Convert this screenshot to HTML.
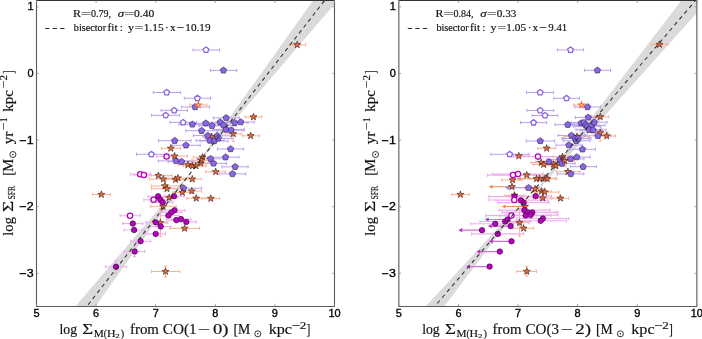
<!DOCTYPE html><html><head><meta charset="utf-8"><style>html,body{margin:0;padding:0;background:#fff;width:702px;height:339px;overflow:hidden}svg{display:block;will-change:transform}.st{font-family:"Liberation Serif",serif;fill:#111;stroke:#111;stroke-width:0.16px}.tk{font-family:"Liberation Sans",sans-serif;font-size:10px;fill:#000;stroke:#000;stroke-width:0.32px}.lg{font-family:"Liberation Serif",serif;font-size:11.6px;fill:#111}.al{font-family:"Liberation Serif",serif;font-size:14.6px;fill:#111}.sub{font-size:10.2px}.sub2{font-size:7.5px}.sup{font-size:10.2px}</style></head><body>
<svg width="702" height="339" viewBox="0 0 702 339">
<defs><clipPath id="cl"><rect x="36.5" y="0" width="298" height="306.5"/></clipPath><clipPath id="cr"><rect x="398.85" y="0" width="298" height="306.5"/></clipPath></defs>
<g clip-path="url(#cl)">
<path d="M193.1 169 L313.3 0 L337.92 0 ZM193.1 169 L94.95 307 L74.85 307 Z" fill="#dadada"/>
<path d="M205.7 171.8H225.4M205.7 170.2V173.4M225.4 170.2V173.4M225.3 133.8H241.2M225.3 132.2V135.4M241.2 132.2V135.4M233.3 126V141.5M231.7 126H234.9M231.7 141.5H234.9M203 136.7H220M203 135.1V138.3M220 135.1V138.3" stroke="#f9b095" stroke-width="1.0" fill="none"/>
<path d="M193.1 50H219.6M193.1 48.4V51.6M219.6 48.4V51.6M153.3 92.5H180.4M153.3 90.9V94.1M180.4 90.9V94.1M184.3 98.2H210.5M184.3 96.6V99.8M210.5 96.6V99.8M161.1 110.4H187.4M161.1 108.8V112M187.4 108.8V112M151.6 115.3H179.5M151.6 113.7V116.9M179.5 113.7V116.9M169.9 122.4H196.5M169.9 120.8V124M196.5 120.8V124M136.5 154.3H166.5M136.5 152.7V155.9M166.5 152.7V155.9M210.4 70.4H236.8M210.4 68.8V72M236.8 68.8V72M181.6 107H209.6M181.6 105.4V108.6M209.6 105.4V108.6M213.3 117.9H239.3M213.3 116.3V119.5M239.3 116.3V119.5M192 123.3H219M192 121.7V124.9M219 121.7V124.9M199 125.8H225M199 124.2V127.4M225 124.2V127.4M207 122.2H233M207 120.6V123.8M233 120.6V123.8M210 125.2H236M210 123.6V126.8M236 123.6V126.8M221 122.7H248M221 121.1V124.3M248 121.1V124.3M227.5 122.1H254.2M227.5 120.5V123.7M254.2 120.5V123.7M179 124.4H205M179 122.8V126M205 122.8V126M185.8 130.7H217M185.8 129.1V132.3M217 129.1V132.3M213 129.5H244M213 127.9V131.1M244 127.9V131.1M218 130.2H244M218 128.6V131.8M244 128.6V131.8M193.3 135.6H222M193.3 134V137.2M222 134V137.2M204 135.8H230M204 134.2V137.4M230 134.2V137.4M196 140.5H224M196 138.9V142.1M224 138.9V142.1M200 141H228M200 139.4V142.6M228 139.4V142.6M205 138.4H232M205 136.8V140M232 136.8V140M217.4 149H243.7M217.4 147.4V150.6M243.7 147.4V150.6M158.4 140.7H191M158.4 139.1V142.3M191 139.1V142.3M172 145.3H200.2M172 143.7V146.9M200.2 143.7V146.9M158.3 160.9H192M158.3 159.3V162.5M192 159.3V162.5M168 161.7H195M168 160.1V163.3M195 160.1V163.3M197 158.8H224.2M197 157.2V160.4M224.2 157.2V160.4M200.4 163.4H226.6M200.4 161.8V165M226.6 161.8V165M212 157.2H238.9M212 155.6V158.8M238.9 155.6V158.8M221.9 166.8H248.1M221.9 165.2V168.4M248.1 165.2V168.4M219 173.9H245.7M219 172.3V175.5M245.7 172.3V175.5M168 188.2H201.8M168 186.6V189.8M201.8 186.6V189.8" stroke="#b7a2ee" stroke-width="1.0" fill="none"/>
<path d="M289.3 44.8H305.7M289.3 43.2V46.4M305.7 43.2V46.4M245.3 117H261.8M245.3 115.4V118.6M261.8 115.4V118.6M242.8 135.8H259.6M242.8 134.2V137.4M259.6 134.2V137.4M92.5 194.5H110.6M92.5 192.9V196.1M110.6 192.9V196.1M161.5 148.3H180.7M161.5 146.7V149.9M180.7 146.7V149.9M165 156.1H187.5M165 154.5V157.7M187.5 154.5V157.7M178 164.8H198M178 163.2V166.4M198 163.2V166.4M183 165.9H202M183 164.3V167.5M202 164.3V167.5M186 165.9H206M186 164.3V167.5M206 164.3V167.5M191 163H210M191 161.4V164.6M210 161.4V164.6M193.3 157.2H211M193.3 155.6V158.8M211 155.6V158.8M192 160.2H210M192 158.6V161.8M210 158.6V161.8M149 175.6H172M149 174V177.2M172 174V177.2M149.7 179.1H177M149.7 177.5V180.7M177 177.5V180.7M166 179.5H185M166 177.9V181.1M185 177.9V181.1M168 178.1H188M168 176.5V179.7M188 176.5V179.7M183.8 179.1H201.3M183.8 177.5V180.7M201.3 177.5V180.7M151.2 185.9H182M151.2 184.3V187.5M182 184.3V187.5M151.6 188.8H185M151.6 187.2V190.4M185 187.2V190.4M173 192.4H192M173 190.8V194M192 190.8V194M182 191.1H201.3M182 189.5V192.7M201.3 189.5V192.7M160 197.6H178M160 196V199.2M178 196V199.2M187 198.3H205M187 196.7V199.9M205 196.7V199.9M202 198.5H219.4M202 196.9V200.1M219.4 196.9V200.1M150.7 206.4H176.2M150.7 204.8V208M176.2 204.8V208M152 222.8H167.8M152 221.2V224.4M167.8 221.2V224.4M160.4 208.5V236.6M158.8 208.5H162M158.8 236.6H162M169.7 228.4H199.4M169.7 226.8V230M199.4 226.8V230M151.5 271.5H179.8M151.5 269.9V273.1M179.8 269.9V273.1M165.5 266.1V276.8M163.9 266.1H167.1M163.9 276.8H167.1M189.8 104.9H206.9M189.8 103.3V106.5M206.9 103.3V106.5" stroke="#f9b095" stroke-width="1.0" fill="none"/>
<path d="M156.7 156.5H176M156.7 154.9V158.1M176 154.9V158.1M130.6 174.2H150M130.6 172.6V175.8M150 172.6V175.8M134 175H151.3M134 173.4V176.6M151.3 173.4V176.6M143.9 199.8H163M143.9 198.2V201.4M163 198.2V201.4M120.1 215.7H140.3M120.1 214.1V217.3M140.3 214.1V217.3M148 196.3H168M148 194.7V197.9M168 194.7V197.9M150 199.8H170M150 198.2V201.4M170 198.2V201.4M152 202.3H173M152 200.7V203.9M173 200.7V203.9M164 196.2H184M164 194.6V197.8M184 194.6V197.8M164 210.3H185M164 208.7V211.9M185 208.7V211.9M161 212.4H182M161 210.8V214M182 210.8V214M158 215.6H179M158 214V217.2M179 214V217.2M166 220.1H187M166 218.5V221.7M187 218.5V221.7M171 219.1H191M171 217.5V220.7M191 217.5V220.7M176 221.9H196.3M176 220.3V223.5M196.3 220.3V223.5M146 222.4H166M146 220.8V224M166 220.8V224M150 226.5H171M150 224.9V228.1M171 224.9V228.1M145.8 233.9H165.5M145.8 232.3V235.5M165.5 232.3V235.5M122.7 223.6H142.9M122.7 222V225.2M142.9 222V225.2M124.2 230H144.4M124.2 228.4V231.6M144.4 228.4V231.6M130.6 241.2H150.7M130.6 239.6V242.8M150.7 239.6V242.8M124.2 251.5H144.7M124.2 249.9V253.1M144.7 249.9V253.1M134.7 246.8V256.6M133.1 246.8H136.3M133.1 256.6H136.3M105.4 266.8H126.6M105.4 265.2V268.4M126.6 265.2V268.4M116 260.6V273.1M114.4 260.6H117.6M114.4 273.1H117.6" stroke="#f0aef0" stroke-width="1.1" fill="none"/>
<path d="M215.7 168.1 L216.57 170.6 L219.22 170.66 L217.11 172.26 L217.87 174.79 L215.7 173.28 L213.53 174.79 L214.29 172.26 L212.18 170.66 L214.83 170.6Z" fill="#ec6a3c" stroke="#3a1c10" stroke-width="0.6"/>
<path d="M233.3 130.1 L234.17 132.6 L236.82 132.66 L234.71 134.26 L235.47 136.79 L233.3 135.28 L231.13 136.79 L231.89 134.26 L229.78 132.66 L232.43 132.6Z" fill="#ec6a3c" stroke="#3a1c10" stroke-width="0.6"/>
<path d="M211.6 133 L212.47 135.5 L215.12 135.56 L213.01 137.16 L213.77 139.69 L211.6 138.18 L209.43 139.69 L210.19 137.16 L208.08 135.56 L210.73 135.5Z" fill="#ec6a3c" stroke="#3a1c10" stroke-width="0.6"/>
<path d="M206 47.05 L208.81 49.09 L207.73 52.39 L204.27 52.39 L203.19 49.09Z" fill="#fff" stroke="#8a64e0" stroke-width="1.3"/>
<path d="M166.7 89.55 L169.51 91.59 L168.43 94.89 L164.97 94.89 L163.89 91.59Z" fill="#fff" stroke="#8a64e0" stroke-width="1.3"/>
<path d="M197.4 95.25 L200.21 97.29 L199.13 100.59 L195.67 100.59 L194.59 97.29Z" fill="#fff" stroke="#8a64e0" stroke-width="1.3"/>
<path d="M174.2 107.45 L177.01 109.49 L175.93 112.79 L172.47 112.79 L171.39 109.49Z" fill="#fff" stroke="#8a64e0" stroke-width="1.3"/>
<path d="M165.7 112.35 L168.51 114.39 L167.43 117.69 L163.97 117.69 L162.89 114.39Z" fill="#fff" stroke="#8a64e0" stroke-width="1.3"/>
<path d="M183.1 119.45 L185.91 121.49 L184.83 124.79 L181.37 124.79 L180.29 121.49Z" fill="#fff" stroke="#8a64e0" stroke-width="1.3"/>
<path d="M151.4 151.35 L154.21 153.39 L153.13 156.69 L149.67 156.69 L148.59 153.39Z" fill="#fff" stroke="#8a64e0" stroke-width="1.3"/>
<path d="M223.5 67.05 L226.69 69.36 L225.47 73.11 L221.53 73.11 L220.31 69.36Z" fill="#8966e4" stroke="#2e2450" stroke-width="0.6"/>
<path d="M195.1 103.65 L198.29 105.96 L197.07 109.71 L193.13 109.71 L191.91 105.96Z" fill="#8966e4" stroke="#2e2450" stroke-width="0.6"/>
<path d="M226.1 114.55 L229.29 116.86 L228.07 120.61 L224.13 120.61 L222.91 116.86Z" fill="#8966e4" stroke="#2e2450" stroke-width="0.6"/>
<path d="M205.7 119.95 L208.89 122.26 L207.67 126.01 L203.73 126.01 L202.51 122.26Z" fill="#8966e4" stroke="#2e2450" stroke-width="0.6"/>
<path d="M212 122.45 L215.19 124.76 L213.97 128.51 L210.03 128.51 L208.81 124.76Z" fill="#8966e4" stroke="#2e2450" stroke-width="0.6"/>
<path d="M220.1 118.85 L223.29 121.16 L222.07 124.91 L218.13 124.91 L216.91 121.16Z" fill="#8966e4" stroke="#2e2450" stroke-width="0.6"/>
<path d="M223.5 121.85 L226.69 124.16 L225.47 127.91 L221.53 127.91 L220.31 124.16Z" fill="#8966e4" stroke="#2e2450" stroke-width="0.6"/>
<path d="M234.6 119.35 L237.79 121.66 L236.57 125.41 L232.63 125.41 L231.41 121.66Z" fill="#8966e4" stroke="#2e2450" stroke-width="0.6"/>
<path d="M240.7 118.75 L243.89 121.06 L242.67 124.81 L238.73 124.81 L237.51 121.06Z" fill="#8966e4" stroke="#2e2450" stroke-width="0.6"/>
<path d="M192.4 121.05 L195.59 123.36 L194.37 127.11 L190.43 127.11 L189.21 123.36Z" fill="#8966e4" stroke="#2e2450" stroke-width="0.6"/>
<path d="M201.6 127.35 L204.79 129.66 L203.57 133.41 L199.63 133.41 L198.41 129.66Z" fill="#8966e4" stroke="#2e2450" stroke-width="0.6"/>
<path d="M226.3 126.15 L229.49 128.46 L228.27 132.21 L224.33 132.21 L223.11 128.46Z" fill="#8966e4" stroke="#2e2450" stroke-width="0.6"/>
<path d="M231.1 126.85 L234.29 129.16 L233.07 132.91 L229.13 132.91 L227.91 129.16Z" fill="#8966e4" stroke="#2e2450" stroke-width="0.6"/>
<path d="M207.9 132.25 L211.09 134.56 L209.87 138.31 L205.93 138.31 L204.71 134.56Z" fill="#8966e4" stroke="#2e2450" stroke-width="0.6"/>
<path d="M217.1 132.45 L220.29 134.76 L219.07 138.51 L215.13 138.51 L213.91 134.76Z" fill="#8966e4" stroke="#2e2450" stroke-width="0.6"/>
<path d="M209.9 137.15 L213.09 139.46 L211.87 143.21 L207.93 143.21 L206.71 139.46Z" fill="#8966e4" stroke="#2e2450" stroke-width="0.6"/>
<path d="M214.2 137.65 L217.39 139.96 L216.17 143.71 L212.23 143.71 L211.01 139.96Z" fill="#8966e4" stroke="#2e2450" stroke-width="0.6"/>
<path d="M218.3 135.05 L221.49 137.36 L220.27 141.11 L216.33 141.11 L215.11 137.36Z" fill="#8966e4" stroke="#2e2450" stroke-width="0.6"/>
<path d="M230.6 145.65 L233.79 147.96 L232.57 151.71 L228.63 151.71 L227.41 147.96Z" fill="#8966e4" stroke="#2e2450" stroke-width="0.6"/>
<path d="M174.7 137.35 L177.89 139.66 L176.67 143.41 L172.73 143.41 L171.51 139.66Z" fill="#8966e4" stroke="#2e2450" stroke-width="0.6"/>
<path d="M186 141.95 L189.19 144.26 L187.97 148.01 L184.03 148.01 L182.81 144.26Z" fill="#8966e4" stroke="#2e2450" stroke-width="0.6"/>
<path d="M176.1 157.55 L179.29 159.86 L178.07 163.61 L174.13 163.61 L172.91 159.86Z" fill="#8966e4" stroke="#2e2450" stroke-width="0.6"/>
<path d="M181.6 158.35 L184.79 160.66 L183.57 164.41 L179.63 164.41 L178.41 160.66Z" fill="#8966e4" stroke="#2e2450" stroke-width="0.6"/>
<path d="M210.5 155.45 L213.69 157.76 L212.47 161.51 L208.53 161.51 L207.31 157.76Z" fill="#8966e4" stroke="#2e2450" stroke-width="0.6"/>
<path d="M213.5 160.05 L216.69 162.36 L215.47 166.11 L211.53 166.11 L210.31 162.36Z" fill="#8966e4" stroke="#2e2450" stroke-width="0.6"/>
<path d="M225.6 153.85 L228.79 156.16 L227.57 159.91 L223.63 159.91 L222.41 156.16Z" fill="#8966e4" stroke="#2e2450" stroke-width="0.6"/>
<path d="M235.1 163.45 L238.29 165.76 L237.07 169.51 L233.13 169.51 L231.91 165.76Z" fill="#8966e4" stroke="#2e2450" stroke-width="0.6"/>
<path d="M232.5 170.55 L235.69 172.86 L234.47 176.61 L230.53 176.61 L229.31 172.86Z" fill="#8966e4" stroke="#2e2450" stroke-width="0.6"/>
<path d="M183.6 184.85 L186.79 187.16 L185.57 190.91 L181.63 190.91 L180.41 187.16Z" fill="#8966e4" stroke="#2e2450" stroke-width="0.6"/>
<path d="M297.2 41.1 L298.07 43.6 L300.72 43.66 L298.61 45.26 L299.37 47.79 L297.2 46.28 L295.03 47.79 L295.79 45.26 L293.68 43.66 L296.33 43.6Z" fill="#ec6a3c" stroke="#3a1c10" stroke-width="0.6"/>
<path d="M253.5 113.3 L254.37 115.8 L257.02 115.86 L254.91 117.46 L255.67 119.99 L253.5 118.48 L251.33 119.99 L252.09 117.46 L249.98 115.86 L252.63 115.8Z" fill="#ec6a3c" stroke="#3a1c10" stroke-width="0.6"/>
<path d="M250.7 132.1 L251.57 134.6 L254.22 134.66 L252.11 136.26 L252.87 138.79 L250.7 137.28 L248.53 138.79 L249.29 136.26 L247.18 134.66 L249.83 134.6Z" fill="#ec6a3c" stroke="#3a1c10" stroke-width="0.6"/>
<path d="M101.3 190.8 L102.17 193.3 L104.82 193.36 L102.71 194.96 L103.47 197.49 L101.3 195.98 L99.13 197.49 L99.89 194.96 L97.78 193.36 L100.43 193.3Z" fill="#ec6a3c" stroke="#3a1c10" stroke-width="0.6"/>
<path d="M170.8 144.6 L171.67 147.1 L174.32 147.16 L172.21 148.76 L172.97 151.29 L170.8 149.78 L168.63 151.29 L169.39 148.76 L167.28 147.16 L169.93 147.1Z" fill="#ec6a3c" stroke="#3a1c10" stroke-width="0.6"/>
<path d="M174.6 152.4 L175.47 154.9 L178.12 154.96 L176.01 156.56 L176.77 159.09 L174.6 157.58 L172.43 159.09 L173.19 156.56 L171.08 154.96 L173.73 154.9Z" fill="#ec6a3c" stroke="#3a1c10" stroke-width="0.6"/>
<path d="M188 161.1 L188.87 163.6 L191.52 163.66 L189.41 165.26 L190.17 167.79 L188 166.28 L185.83 167.79 L186.59 165.26 L184.48 163.66 L187.13 163.6Z" fill="#ec6a3c" stroke="#3a1c10" stroke-width="0.6"/>
<path d="M192.5 162.2 L193.37 164.7 L196.02 164.76 L193.91 166.36 L194.67 168.89 L192.5 167.38 L190.33 168.89 L191.09 166.36 L188.98 164.76 L191.63 164.7Z" fill="#ec6a3c" stroke="#3a1c10" stroke-width="0.6"/>
<path d="M195.9 162.2 L196.77 164.7 L199.42 164.76 L197.31 166.36 L198.07 168.89 L195.9 167.38 L193.73 168.89 L194.49 166.36 L192.38 164.76 L195.03 164.7Z" fill="#ec6a3c" stroke="#3a1c10" stroke-width="0.6"/>
<path d="M200.7 159.3 L201.57 161.8 L204.22 161.86 L202.11 163.46 L202.87 165.99 L200.7 164.48 L198.53 165.99 L199.29 163.46 L197.18 161.86 L199.83 161.8Z" fill="#ec6a3c" stroke="#3a1c10" stroke-width="0.6"/>
<path d="M202.5 153.5 L203.37 156 L206.02 156.06 L203.91 157.66 L204.67 160.19 L202.5 158.68 L200.33 160.19 L201.09 157.66 L198.98 156.06 L201.63 156Z" fill="#ec6a3c" stroke="#3a1c10" stroke-width="0.6"/>
<path d="M201.2 156.5 L202.07 159 L204.72 159.06 L202.61 160.66 L203.37 163.19 L201.2 161.68 L199.03 163.19 L199.79 160.66 L197.68 159.06 L200.33 159Z" fill="#ec6a3c" stroke="#3a1c10" stroke-width="0.6"/>
<path d="M158.4 171.9 L159.27 174.4 L161.92 174.46 L159.81 176.06 L160.57 178.59 L158.4 177.08 L156.23 178.59 L156.99 176.06 L154.88 174.46 L157.53 174.4Z" fill="#ec6a3c" stroke="#3a1c10" stroke-width="0.6"/>
<path d="M163.3 175.4 L164.17 177.9 L166.82 177.96 L164.71 179.56 L165.47 182.09 L163.3 180.58 L161.13 182.09 L161.89 179.56 L159.78 177.96 L162.43 177.9Z" fill="#ec6a3c" stroke="#3a1c10" stroke-width="0.6"/>
<path d="M175.5 175.8 L176.37 178.3 L179.02 178.36 L176.91 179.96 L177.67 182.49 L175.5 180.98 L173.33 182.49 L174.09 179.96 L171.98 178.36 L174.63 178.3Z" fill="#ec6a3c" stroke="#3a1c10" stroke-width="0.6"/>
<path d="M178 174.4 L178.87 176.9 L181.52 176.96 L179.41 178.56 L180.17 181.09 L178 179.58 L175.83 181.09 L176.59 178.56 L174.48 176.96 L177.13 176.9Z" fill="#ec6a3c" stroke="#3a1c10" stroke-width="0.6"/>
<path d="M192.3 175.4 L193.17 177.9 L195.82 177.96 L193.71 179.56 L194.47 182.09 L192.3 180.58 L190.13 182.09 L190.89 179.56 L188.78 177.96 L191.43 177.9Z" fill="#ec6a3c" stroke="#3a1c10" stroke-width="0.6"/>
<path d="M164.9 182.2 L165.77 184.7 L168.42 184.76 L166.31 186.36 L167.07 188.89 L164.9 187.38 L162.73 188.89 L163.49 186.36 L161.38 184.76 L164.03 184.7Z" fill="#ec6a3c" stroke="#3a1c10" stroke-width="0.6"/>
<path d="M167 185.1 L167.87 187.6 L170.52 187.66 L168.41 189.26 L169.17 191.79 L167 190.28 L164.83 191.79 L165.59 189.26 L163.48 187.66 L166.13 187.6Z" fill="#ec6a3c" stroke="#3a1c10" stroke-width="0.6"/>
<path d="M182.4 188.7 L183.27 191.2 L185.92 191.26 L183.81 192.86 L184.57 195.39 L182.4 193.88 L180.23 195.39 L180.99 192.86 L178.88 191.26 L181.53 191.2Z" fill="#ec6a3c" stroke="#3a1c10" stroke-width="0.6"/>
<path d="M191.8 187.4 L192.67 189.9 L195.32 189.96 L193.21 191.56 L193.97 194.09 L191.8 192.58 L189.63 194.09 L190.39 191.56 L188.28 189.96 L190.93 189.9Z" fill="#ec6a3c" stroke="#3a1c10" stroke-width="0.6"/>
<path d="M169.2 193.9 L170.07 196.4 L172.72 196.46 L170.61 198.06 L171.37 200.59 L169.2 199.08 L167.03 200.59 L167.79 198.06 L165.68 196.46 L168.33 196.4Z" fill="#ec6a3c" stroke="#3a1c10" stroke-width="0.6"/>
<path d="M196.2 194.6 L197.07 197.1 L199.72 197.16 L197.61 198.76 L198.37 201.29 L196.2 199.78 L194.03 201.29 L194.79 198.76 L192.68 197.16 L195.33 197.1Z" fill="#ec6a3c" stroke="#3a1c10" stroke-width="0.6"/>
<path d="M210.8 194.8 L211.67 197.3 L214.32 197.36 L212.21 198.96 L212.97 201.49 L210.8 199.98 L208.63 201.49 L209.39 198.96 L207.28 197.36 L209.93 197.3Z" fill="#ec6a3c" stroke="#3a1c10" stroke-width="0.6"/>
<path d="M163.1 202.7 L163.97 205.2 L166.62 205.26 L164.51 206.86 L165.27 209.39 L163.1 207.88 L160.93 209.39 L161.69 206.86 L159.58 205.26 L162.23 205.2Z" fill="#ec6a3c" stroke="#3a1c10" stroke-width="0.6"/>
<path d="M160.4 219.1 L161.27 221.6 L163.92 221.66 L161.81 223.26 L162.57 225.79 L160.4 224.28 L158.23 225.79 L158.99 223.26 L156.88 221.66 L159.53 221.6Z" fill="#ec6a3c" stroke="#3a1c10" stroke-width="0.6"/>
<path d="M184.6 224.7 L185.47 227.2 L188.12 227.26 L186.01 228.86 L186.77 231.39 L184.6 229.88 L182.43 231.39 L183.19 228.86 L181.08 227.26 L183.73 227.2Z" fill="#ec6a3c" stroke="#3a1c10" stroke-width="0.6"/>
<path d="M165.5 267.8 L166.37 270.3 L169.02 270.36 L166.91 271.96 L167.67 274.49 L165.5 272.98 L163.33 274.49 L164.09 271.96 L161.98 270.36 L164.63 270.3Z" fill="#ec6a3c" stroke="#3a1c10" stroke-width="0.6"/>
<path d="M198.3 101.8 L199.03 103.9 L201.25 103.94 L199.48 105.28 L200.12 107.41 L198.3 106.14 L196.48 107.41 L197.12 105.28 L195.35 103.94 L197.57 103.9Z" fill="#fff" stroke="#f86a34" stroke-width="1.1"/>
<circle cx="166.6" cy="156.5" r="2.65" fill="#fff" stroke="#b800c0" stroke-width="1.3"/>
<circle cx="140.2" cy="174.2" r="2.65" fill="#fff" stroke="#b800c0" stroke-width="1.3"/>
<circle cx="143.9" cy="175" r="2.65" fill="#fff" stroke="#b800c0" stroke-width="1.3"/>
<circle cx="153.6" cy="199.8" r="2.65" fill="#fff" stroke="#b800c0" stroke-width="1.3"/>
<circle cx="130" cy="215.7" r="2.65" fill="#fff" stroke="#b800c0" stroke-width="1.3"/>
<circle cx="158.1" cy="196.3" r="2.75" fill="#bb00c4" stroke="#2a002a" stroke-width="0.6"/>
<circle cx="160.3" cy="199.8" r="2.75" fill="#bb00c4" stroke="#2a002a" stroke-width="0.6"/>
<circle cx="162.6" cy="202.3" r="2.75" fill="#bb00c4" stroke="#2a002a" stroke-width="0.6"/>
<circle cx="174" cy="196.2" r="2.75" fill="#bb00c4" stroke="#2a002a" stroke-width="0.6"/>
<circle cx="174.5" cy="210.3" r="2.75" fill="#bb00c4" stroke="#2a002a" stroke-width="0.6"/>
<circle cx="171.3" cy="212.4" r="2.75" fill="#bb00c4" stroke="#2a002a" stroke-width="0.6"/>
<circle cx="168.4" cy="215.6" r="2.75" fill="#bb00c4" stroke="#2a002a" stroke-width="0.6"/>
<circle cx="176.3" cy="220.1" r="2.75" fill="#bb00c4" stroke="#2a002a" stroke-width="0.6"/>
<circle cx="181" cy="219.1" r="2.75" fill="#bb00c4" stroke="#2a002a" stroke-width="0.6"/>
<circle cx="186.3" cy="221.9" r="2.75" fill="#bb00c4" stroke="#2a002a" stroke-width="0.6"/>
<circle cx="155.9" cy="222.4" r="2.75" fill="#bb00c4" stroke="#2a002a" stroke-width="0.6"/>
<circle cx="160.7" cy="226.5" r="2.75" fill="#bb00c4" stroke="#2a002a" stroke-width="0.6"/>
<circle cx="155.7" cy="233.9" r="2.75" fill="#bb00c4" stroke="#2a002a" stroke-width="0.6"/>
<circle cx="132.8" cy="223.6" r="2.75" fill="#bb00c4" stroke="#2a002a" stroke-width="0.6"/>
<circle cx="134.1" cy="230" r="2.75" fill="#bb00c4" stroke="#2a002a" stroke-width="0.6"/>
<circle cx="140.6" cy="241.2" r="2.75" fill="#bb00c4" stroke="#2a002a" stroke-width="0.6"/>
<circle cx="134.7" cy="251.5" r="2.75" fill="#bb00c4" stroke="#2a002a" stroke-width="0.6"/>
<circle cx="116" cy="266.8" r="2.75" fill="#bb00c4" stroke="#2a002a" stroke-width="0.6"/>
<path d="M325 0 L86.37 307" stroke="#2e2e2e" stroke-width="1.05" stroke-dasharray="3.85 3.62" stroke-dashoffset="-1.14" fill="none"/>
</g>
<g clip-path="url(#cr)">
<path d="M523.7 206.2 L681.8 0 L708.44 0ZM529.3 194.2 L425.08 307 L443.74 307Z" fill="#dadada"/>
<path d="M563.7 136.6H589.5M563.7 135V138.2M589.5 135V138.2M505 195.4H524M505 193.8V197M524 193.8V197M556.7 171.7H580M556.7 170.1V173.3M580 170.1V173.3M592 132.8H608M592 131.2V134.4M608 131.2V134.4M600.2 126V141.1M598.6 126H601.8M598.6 141.1H601.8" stroke="#f9b095" stroke-width="1.0" fill="none"/>
<path d="M557.4 49.9H583.6M557.4 48.3V51.5M583.6 48.3V51.5M526.6 92.5H553.4M526.6 90.9V94.1M553.4 90.9V94.1M553.8 98.3H579.4M553.8 96.7V99.9M579.4 96.7V99.9M526.9 110.5H553.8M526.9 108.9V112.1M553.8 108.9V112.1M532.2 115.5H557.7M532.2 113.9V117.1M557.7 113.9V117.1M520.6 122.6H546.6M520.6 121V124.2M546.6 121V124.2M490.8 154.3H529M490.8 152.7V155.9M529 152.7V155.9M584.6 70.3H610.5M584.6 68.7V71.9M610.5 68.7V71.9M574.8 107H600.5M574.8 105.4V108.6M600.5 105.4V108.6M575.3 117.4H601M575.3 115.8V119M601 115.8V119M555 124.7H581M555 123.1V126.3M581 123.1V126.3M568 123.1H594M568 121.5V124.7M594 121.5V124.7M571 122.6H597M571 121V124.2M597 121V124.2M572 125.3H599M572 123.7V126.9M599 123.7V126.9M574 126.6H601M574 125V128.2M601 125V128.2M578 125.3H605M578 123.7V126.9M605 123.7V126.9M581 122.2H607M581 120.6V123.8M607 120.6V123.8M576 129.7H602M576 128.1V131.3M602 128.1V131.3M580 130.1H606M580 128.5V131.7M606 128.5V131.7M584 135.8H611M584 134.2V137.4M611 134.2V137.4M558 135.5H585M558 133.9V137.1M585 133.9V137.1M562 138.5H588M562 136.9V140.1M588 136.9V140.1M563 140.8H590M563 139.2V142.4M590 139.2V142.4M565 138.5H591M565 136.9V140.1M591 136.9V140.1M526.1 141H554.6M526.1 139.4V142.6M554.6 139.4V142.6M556.1 145.1H582.2M556.1 143.5V146.7M582.2 143.5V146.7M569.6 149.3H595.4M569.6 147.7V150.9M595.4 147.7V150.9M536 161.8H562M536 160.2V163.4M562 160.2V163.4M547 159.6H573M547 158V161.2M573 158V161.2M549 163.6H575M549 162V165.2M575 162V165.2M557 158.9H584M557 157.3V160.5M584 157.3V160.5M564 157.1H590.1M564 155.5V158.7M590.1 155.5V158.7M570.5 166.7H596.4M570.5 165.1V168.3M596.4 165.1V168.3M557.2 173.9H583.8M557.2 172.3V175.5M583.8 172.3V175.5" stroke="#b7a2ee" stroke-width="1.0" fill="none"/>
<path d="M528.6 187.8H508" stroke="#9a80e6" stroke-width="1.1" fill="none"/>
<path d="M651.4 44.5H667.9M651.4 42.9V46.1M667.9 42.9V46.1M591.8 116.8H608.7M591.8 115.2V118.4M608.7 115.2V118.4M598 136H615.5M598 134.4V137.6M615.5 134.4V137.6M537.7 148.3H555.4M537.7 146.7V149.9M555.4 146.7V149.9M509 156H528.7M509 154.4V157.6M528.7 154.4V157.6M553 156.8H572M553 155.2V158.4M572 155.2V158.4M555 160.7H574M555 159.1V162.3M574 159.1V162.3M531 162.5H551M531 160.9V164.1M551 160.9V164.1M533 164.6H554M533 163V166.2M554 163V166.2M543 164.4H563M543 162.8V166M563 162.8V166M545 165.8H566M545 164.2V167.4M566 164.2V167.4M515 175H543.4M515 173.4V176.6M543.4 173.4V176.6M501.8 180H522M501.8 178.4V181.6M522 178.4V181.6M530 178.6H550M530 177V180.2M550 177V180.2M535 178.3H555M535 176.7V179.9M555 176.7V179.9M538 178.8H556.7M538 177.2V180.4M556.7 177.2V180.4M525 188.9H545M525 187.3V190.5M545 187.3V190.5M531 191.3H551M531 189.7V192.9M551 189.7V192.9M535 192.1H559M535 190.5V193.7M559 190.5V193.7M533 198.1H552M533 196.5V199.7M552 196.5V199.7M551 198.3H568.7M551 196.7V199.9M568.7 196.7V199.9M510 222.7H529M510 221.1V224.3M529 221.1V224.3M519.5 208.6V236.2M517.9 208.6H521.1M517.9 236.2H521.1M513 228.3H533.7M513 226.7V229.9M533.7 226.7V229.9M451.9 194.6H469.2M451.9 193V196.2M469.2 193V196.2M516.9 271.4H536.5M516.9 269.8V273M536.5 269.8V273M526.8 266.5V276M525.2 266.5H528.4M525.2 276H528.4M573.7 105H589M573.7 103.4V106.6M589 103.4V106.6" stroke="#f9b095" stroke-width="1.0" fill="none"/>
<path d="M536.5 178.8H519.9M512 186.8H491.7M525.1 206.5H504.8" stroke="#f08a60" stroke-width="1.1" fill="none"/>
<path d="M513 156.6H563M513 155V158.2M563 155V158.2M487.5 175.1H538M487.5 173.5V176.7M538 173.5V176.7M492.3 174H543M492.3 172.4V175.6M543 172.4V175.6M489 200H540M489 198.4V201.6M540 198.4V201.6M485.8 215.6H537M485.8 214V217.2M537 214V217.2M510 196.1H551.5M510 194.5V197.7M551.5 194.5V197.7M496 200.3H548M496 198.7V201.9M548 198.7V201.9M498 202.6H549M498 201V204.2M549 201V204.2M499 210.1H550M499 208.5V211.7M550 208.5V211.7M502 212.4H558M502 210.8V214M558 210.8V214M507 212.4H556M507 210.8V214M556 210.8V214M500 215.5H551M500 213.9V217.1M551 213.9V217.1M505 215.1H558M505 213.5V216.7M558 213.5V216.7M480 221.5H531M480 219.9V223.1M531 219.9V223.1M470.6 223.8H521M470.6 222.2V225.4M521 222.2V225.4M471.6 233.9H523.6M471.6 232.3V235.5M523.6 232.3V235.5M517 218.5H568.7M517 216.9V220.1M568.7 216.9V220.1M515 220.8H566.6M515 219.2V222.4M566.6 219.2V222.4M489 196.6H540M489 195V198.2M540 195V198.2" stroke="#f0aef0" stroke-width="1.1" fill="none"/>
<path d="M482 230.2H461.4M507.6 219.5H487.9M510.6 226.1H491M511.5 241.3H491.9M499.8 251.6H479.5M489.6 266.6H469.2" stroke="#d070d6" stroke-width="1.2" fill="none"/>
<path d="M577 132.9 L577.87 135.4 L580.52 135.46 L578.41 137.06 L579.17 139.59 L577 138.08 L574.83 139.59 L575.59 137.06 L573.48 135.46 L576.13 135.4Z" fill="#ec6a3c" stroke="#3a1c10" stroke-width="0.6"/>
<path d="M514.5 191.7 L515.37 194.2 L518.02 194.26 L515.91 195.86 L516.67 198.39 L514.5 196.88 L512.33 198.39 L513.09 195.86 L510.98 194.26 L513.63 194.2Z" fill="#ec6a3c" stroke="#3a1c10" stroke-width="0.6"/>
<path d="M567.9 168 L568.77 170.5 L571.42 170.56 L569.31 172.16 L570.07 174.69 L567.9 173.18 L565.73 174.69 L566.49 172.16 L564.38 170.56 L567.03 170.5Z" fill="#ec6a3c" stroke="#3a1c10" stroke-width="0.6"/>
<path d="M600.2 129.1 L601.07 131.6 L603.72 131.66 L601.61 133.26 L602.37 135.79 L600.2 134.28 L598.03 135.79 L598.79 133.26 L596.68 131.66 L599.33 131.6Z" fill="#ec6a3c" stroke="#3a1c10" stroke-width="0.6"/>
<circle cx="514.5" cy="196.6" r="2.75" fill="#bb00c4" stroke="#2a002a" stroke-width="0.6"/>
<path d="M505 187.8L508.8 185.7L508.8 189.9Z" fill="#9a80e6"/>
<path d="M570.5 46.95 L573.31 48.99 L572.23 52.29 L568.77 52.29 L567.69 48.99Z" fill="#fff" stroke="#8a64e0" stroke-width="1.3"/>
<path d="M540.2 89.55 L543.01 91.59 L541.93 94.89 L538.47 94.89 L537.39 91.59Z" fill="#fff" stroke="#8a64e0" stroke-width="1.3"/>
<path d="M566.5 95.35 L569.31 97.39 L568.23 100.69 L564.77 100.69 L563.69 97.39Z" fill="#fff" stroke="#8a64e0" stroke-width="1.3"/>
<path d="M540.2 107.55 L543.01 109.59 L541.93 112.89 L538.47 112.89 L537.39 109.59Z" fill="#fff" stroke="#8a64e0" stroke-width="1.3"/>
<path d="M545 112.55 L547.81 114.59 L546.73 117.89 L543.27 117.89 L542.19 114.59Z" fill="#fff" stroke="#8a64e0" stroke-width="1.3"/>
<path d="M533.6 119.65 L536.41 121.69 L535.33 124.99 L531.87 124.99 L530.79 121.69Z" fill="#fff" stroke="#8a64e0" stroke-width="1.3"/>
<path d="M509.7 151.35 L512.51 153.39 L511.43 156.69 L507.97 156.69 L506.89 153.39Z" fill="#fff" stroke="#8a64e0" stroke-width="1.3"/>
<path d="M597.4 66.95 L600.59 69.26 L599.37 73.01 L595.43 73.01 L594.21 69.26Z" fill="#8966e4" stroke="#2e2450" stroke-width="0.6"/>
<path d="M587.5 103.65 L590.69 105.96 L589.47 109.71 L585.53 109.71 L584.31 105.96Z" fill="#8966e4" stroke="#2e2450" stroke-width="0.6"/>
<path d="M588.2 114.05 L591.39 116.36 L590.17 120.11 L586.23 120.11 L585.01 116.36Z" fill="#8966e4" stroke="#2e2450" stroke-width="0.6"/>
<path d="M567.8 121.35 L570.99 123.66 L569.77 127.41 L565.83 127.41 L564.61 123.66Z" fill="#8966e4" stroke="#2e2450" stroke-width="0.6"/>
<path d="M581.2 119.75 L584.39 122.06 L583.17 125.81 L579.23 125.81 L578.01 122.06Z" fill="#8966e4" stroke="#2e2450" stroke-width="0.6"/>
<path d="M583.9 119.25 L587.09 121.56 L585.87 125.31 L581.93 125.31 L580.71 121.56Z" fill="#8966e4" stroke="#2e2450" stroke-width="0.6"/>
<path d="M585.7 121.95 L588.89 124.26 L587.67 128.01 L583.73 128.01 L582.51 124.26Z" fill="#8966e4" stroke="#2e2450" stroke-width="0.6"/>
<path d="M587.4 123.25 L590.59 125.56 L589.37 129.31 L585.43 129.31 L584.21 125.56Z" fill="#8966e4" stroke="#2e2450" stroke-width="0.6"/>
<path d="M591.9 121.95 L595.09 124.26 L593.87 128.01 L589.93 128.01 L588.71 124.26Z" fill="#8966e4" stroke="#2e2450" stroke-width="0.6"/>
<path d="M594.1 118.85 L597.29 121.16 L596.07 124.91 L592.13 124.91 L590.91 121.16Z" fill="#8966e4" stroke="#2e2450" stroke-width="0.6"/>
<path d="M589.2 126.35 L592.39 128.66 L591.17 132.41 L587.23 132.41 L586.01 128.66Z" fill="#8966e4" stroke="#2e2450" stroke-width="0.6"/>
<path d="M593.2 126.75 L596.39 129.06 L595.17 132.81 L591.23 132.81 L590.01 129.06Z" fill="#8966e4" stroke="#2e2450" stroke-width="0.6"/>
<path d="M597.8 132.45 L600.99 134.76 L599.77 138.51 L595.83 138.51 L594.61 134.76Z" fill="#8966e4" stroke="#2e2450" stroke-width="0.6"/>
<path d="M571.5 132.15 L574.69 134.46 L573.47 138.21 L569.53 138.21 L568.31 134.46Z" fill="#8966e4" stroke="#2e2450" stroke-width="0.6"/>
<path d="M575 135.15 L578.19 137.46 L576.97 141.21 L573.03 141.21 L571.81 137.46Z" fill="#8966e4" stroke="#2e2450" stroke-width="0.6"/>
<path d="M576.4 137.45 L579.59 139.76 L578.37 143.51 L574.43 143.51 L573.21 139.76Z" fill="#8966e4" stroke="#2e2450" stroke-width="0.6"/>
<path d="M578.1 135.15 L581.29 137.46 L580.07 141.21 L576.13 141.21 L574.91 137.46Z" fill="#8966e4" stroke="#2e2450" stroke-width="0.6"/>
<path d="M540.3 137.65 L543.49 139.96 L542.27 143.71 L538.33 143.71 L537.11 139.96Z" fill="#8966e4" stroke="#2e2450" stroke-width="0.6"/>
<path d="M568.9 141.75 L572.09 144.06 L570.87 147.81 L566.93 147.81 L565.71 144.06Z" fill="#8966e4" stroke="#2e2450" stroke-width="0.6"/>
<path d="M582.4 145.95 L585.59 148.26 L584.37 152.01 L580.43 152.01 L579.21 148.26Z" fill="#8966e4" stroke="#2e2450" stroke-width="0.6"/>
<path d="M549 158.45 L552.19 160.76 L550.97 164.51 L547.03 164.51 L545.81 160.76Z" fill="#8966e4" stroke="#2e2450" stroke-width="0.6"/>
<path d="M559.9 156.25 L563.09 158.56 L561.87 162.31 L557.93 162.31 L556.71 158.56Z" fill="#8966e4" stroke="#2e2450" stroke-width="0.6"/>
<path d="M562 160.25 L565.19 162.56 L563.97 166.31 L560.03 166.31 L558.81 162.56Z" fill="#8966e4" stroke="#2e2450" stroke-width="0.6"/>
<path d="M570.6 155.55 L573.79 157.86 L572.57 161.61 L568.63 161.61 L567.41 157.86Z" fill="#8966e4" stroke="#2e2450" stroke-width="0.6"/>
<path d="M576.8 153.75 L579.99 156.06 L578.77 159.81 L574.83 159.81 L573.61 156.06Z" fill="#8966e4" stroke="#2e2450" stroke-width="0.6"/>
<path d="M583.1 163.35 L586.29 165.66 L585.07 169.41 L581.13 169.41 L579.91 165.66Z" fill="#8966e4" stroke="#2e2450" stroke-width="0.6"/>
<path d="M570.8 170.55 L573.99 172.86 L572.77 176.61 L568.83 176.61 L567.61 172.86Z" fill="#8966e4" stroke="#2e2450" stroke-width="0.6"/>
<path d="M528.6 184.45 L531.79 186.76 L530.57 190.51 L526.63 190.51 L525.41 186.76Z" fill="#8966e4" stroke="#2e2450" stroke-width="0.6"/>
<path d="M516.9 178.8L520.7 176.7L520.7 180.9ZM488.7 186.8L492.5 184.7L492.5 188.9ZM501.8 206.5L505.6 204.4L505.6 208.6Z" fill="#f08a60"/>
<path d="M659.4 40.8 L660.27 43.3 L662.92 43.36 L660.81 44.96 L661.57 47.49 L659.4 45.98 L657.23 47.49 L657.99 44.96 L655.88 43.36 L658.53 43.3Z" fill="#ec6a3c" stroke="#3a1c10" stroke-width="0.6"/>
<path d="M600.3 113.1 L601.17 115.6 L603.82 115.66 L601.71 117.26 L602.47 119.79 L600.3 118.28 L598.13 119.79 L598.89 117.26 L596.78 115.66 L599.43 115.6Z" fill="#ec6a3c" stroke="#3a1c10" stroke-width="0.6"/>
<path d="M606.7 132.3 L607.57 134.8 L610.22 134.86 L608.11 136.46 L608.87 138.99 L606.7 137.48 L604.53 138.99 L605.29 136.46 L603.18 134.86 L605.83 134.8Z" fill="#ec6a3c" stroke="#3a1c10" stroke-width="0.6"/>
<path d="M546.7 144.6 L547.57 147.1 L550.22 147.16 L548.11 148.76 L548.87 151.29 L546.7 149.78 L544.53 151.29 L545.29 148.76 L543.18 147.16 L545.83 147.1Z" fill="#ec6a3c" stroke="#3a1c10" stroke-width="0.6"/>
<path d="M518.8 152.3 L519.67 154.8 L522.32 154.86 L520.21 156.46 L520.97 158.99 L518.8 157.48 L516.63 158.99 L517.39 156.46 L515.28 154.86 L517.93 154.8Z" fill="#ec6a3c" stroke="#3a1c10" stroke-width="0.6"/>
<path d="M562.5 153.1 L563.37 155.6 L566.02 155.66 L563.91 157.26 L564.67 159.79 L562.5 158.28 L560.33 159.79 L561.09 157.26 L558.98 155.66 L561.63 155.6Z" fill="#ec6a3c" stroke="#3a1c10" stroke-width="0.6"/>
<path d="M564.6 157 L565.47 159.5 L568.12 159.56 L566.01 161.16 L566.77 163.69 L564.6 162.18 L562.43 163.69 L563.19 161.16 L561.08 159.56 L563.73 159.5Z" fill="#ec6a3c" stroke="#3a1c10" stroke-width="0.6"/>
<path d="M541.2 158.8 L542.07 161.3 L544.72 161.36 L542.61 162.96 L543.37 165.49 L541.2 163.98 L539.03 165.49 L539.79 162.96 L537.68 161.36 L540.33 161.3Z" fill="#ec6a3c" stroke="#3a1c10" stroke-width="0.6"/>
<path d="M543.7 160.9 L544.57 163.4 L547.22 163.46 L545.11 165.06 L545.87 167.59 L543.7 166.08 L541.53 167.59 L542.29 165.06 L540.18 163.46 L542.83 163.4Z" fill="#ec6a3c" stroke="#3a1c10" stroke-width="0.6"/>
<path d="M553.5 160.7 L554.37 163.2 L557.02 163.26 L554.91 164.86 L555.67 167.39 L553.5 165.88 L551.33 167.39 L552.09 164.86 L549.98 163.26 L552.63 163.2Z" fill="#ec6a3c" stroke="#3a1c10" stroke-width="0.6"/>
<path d="M555.8 162.1 L556.67 164.6 L559.32 164.66 L557.21 166.26 L557.97 168.79 L555.8 167.28 L553.63 168.79 L554.39 166.26 L552.28 164.66 L554.93 164.6Z" fill="#ec6a3c" stroke="#3a1c10" stroke-width="0.6"/>
<path d="M526.7 171.3 L527.57 173.8 L530.22 173.86 L528.11 175.46 L528.87 177.99 L526.7 176.48 L524.53 177.99 L525.29 175.46 L523.18 173.86 L525.83 173.8Z" fill="#ec6a3c" stroke="#3a1c10" stroke-width="0.6"/>
<path d="M512.6 176.3 L513.47 178.8 L516.12 178.86 L514.01 180.46 L514.77 182.99 L512.6 181.48 L510.43 182.99 L511.19 180.46 L509.08 178.86 L511.73 178.8Z" fill="#ec6a3c" stroke="#3a1c10" stroke-width="0.6"/>
<path d="M539.7 174.9 L540.57 177.4 L543.22 177.46 L541.11 179.06 L541.87 181.59 L539.7 180.08 L537.53 181.59 L538.29 179.06 L536.18 177.46 L538.83 177.4Z" fill="#ec6a3c" stroke="#3a1c10" stroke-width="0.6"/>
<path d="M545 174.6 L545.87 177.1 L548.52 177.16 L546.41 178.76 L547.17 181.29 L545 179.78 L542.83 181.29 L543.59 178.76 L541.48 177.16 L544.13 177.1Z" fill="#ec6a3c" stroke="#3a1c10" stroke-width="0.6"/>
<path d="M547.2 175.1 L548.07 177.6 L550.72 177.66 L548.61 179.26 L549.37 181.79 L547.2 180.28 L545.03 181.79 L545.79 179.26 L543.68 177.66 L546.33 177.6Z" fill="#ec6a3c" stroke="#3a1c10" stroke-width="0.6"/>
<path d="M535 185.2 L535.87 187.7 L538.52 187.76 L536.41 189.36 L537.17 191.89 L535 190.38 L532.83 191.89 L533.59 189.36 L531.48 187.76 L534.13 187.7Z" fill="#ec6a3c" stroke="#3a1c10" stroke-width="0.6"/>
<path d="M541.5 187.6 L542.37 190.1 L545.02 190.16 L542.91 191.76 L543.67 194.29 L541.5 192.78 L539.33 194.29 L540.09 191.76 L537.98 190.16 L540.63 190.1Z" fill="#ec6a3c" stroke="#3a1c10" stroke-width="0.6"/>
<path d="M544.7 188.4 L545.57 190.9 L548.22 190.96 L546.11 192.56 L546.87 195.09 L544.7 193.58 L542.53 195.09 L543.29 192.56 L541.18 190.96 L543.83 190.9Z" fill="#ec6a3c" stroke="#3a1c10" stroke-width="0.6"/>
<path d="M542.8 194.4 L543.67 196.9 L546.32 196.96 L544.21 198.56 L544.97 201.09 L542.8 199.58 L540.63 201.09 L541.39 198.56 L539.28 196.96 L541.93 196.9Z" fill="#ec6a3c" stroke="#3a1c10" stroke-width="0.6"/>
<path d="M560.4 194.6 L561.27 197.1 L563.92 197.16 L561.81 198.76 L562.57 201.29 L560.4 199.78 L558.23 201.29 L558.99 198.76 L556.88 197.16 L559.53 197.1Z" fill="#ec6a3c" stroke="#3a1c10" stroke-width="0.6"/>
<path d="M519.5 219 L520.37 221.5 L523.02 221.56 L520.91 223.16 L521.67 225.69 L519.5 224.18 L517.33 225.69 L518.09 223.16 L515.98 221.56 L518.63 221.5Z" fill="#ec6a3c" stroke="#3a1c10" stroke-width="0.6"/>
<path d="M523.6 224.6 L524.47 227.1 L527.12 227.16 L525.01 228.76 L525.77 231.29 L523.6 229.78 L521.43 231.29 L522.19 228.76 L520.08 227.16 L522.73 227.1Z" fill="#ec6a3c" stroke="#3a1c10" stroke-width="0.6"/>
<path d="M460.4 190.9 L461.27 193.4 L463.92 193.46 L461.81 195.06 L462.57 197.59 L460.4 196.08 L458.23 197.59 L458.99 195.06 L456.88 193.46 L459.53 193.4Z" fill="#ec6a3c" stroke="#3a1c10" stroke-width="0.6"/>
<path d="M526.8 267.7 L527.67 270.2 L530.32 270.26 L528.21 271.86 L528.97 274.39 L526.8 272.88 L524.63 274.39 L525.39 271.86 L523.28 270.26 L525.93 270.2Z" fill="#ec6a3c" stroke="#3a1c10" stroke-width="0.6"/>
<path d="M536.5 175.1 L537.37 177.6 L540.02 177.66 L537.91 179.26 L538.67 181.79 L536.5 180.28 L534.33 181.79 L535.09 179.26 L532.98 177.66 L535.63 177.6Z" fill="#ec6a3c" stroke="#3a1c10" stroke-width="0.6"/>
<path d="M512 183.1 L512.87 185.6 L515.52 185.66 L513.41 187.26 L514.17 189.79 L512 188.28 L509.83 189.79 L510.59 187.26 L508.48 185.66 L511.13 185.6Z" fill="#ec6a3c" stroke="#3a1c10" stroke-width="0.6"/>
<path d="M525.1 202.8 L525.97 205.3 L528.62 205.36 L526.51 206.96 L527.27 209.49 L525.1 207.98 L522.93 209.49 L523.69 206.96 L521.58 205.36 L524.23 205.3Z" fill="#ec6a3c" stroke="#3a1c10" stroke-width="0.6"/>
<path d="M581.5 101.9 L582.23 104 L584.45 104.04 L582.68 105.38 L583.32 107.51 L581.5 106.24 L579.68 107.51 L580.32 105.38 L578.55 104.04 L580.77 104Z" fill="#fff" stroke="#f86a34" stroke-width="1.1"/>
<path d="M458.4 230.2L462.2 228.1L462.2 232.3ZM484.9 219.5L488.7 217.4L488.7 221.6ZM488 226.1L491.8 224L491.8 228.2ZM488.9 241.3L492.7 239.2L492.7 243.4ZM476.5 251.6L480.3 249.5L480.3 253.7ZM466.2 266.6L470 264.5L470 268.7Z" fill="#c02cc6"/>
<circle cx="538" cy="156.6" r="2.65" fill="#fff" stroke="#b800c0" stroke-width="1.3"/>
<circle cx="513" cy="175.1" r="2.65" fill="#fff" stroke="#b800c0" stroke-width="1.3"/>
<circle cx="518" cy="174" r="2.65" fill="#fff" stroke="#b800c0" stroke-width="1.3"/>
<circle cx="514.3" cy="200" r="2.65" fill="#fff" stroke="#b800c0" stroke-width="1.3"/>
<circle cx="511.4" cy="215.6" r="2.65" fill="#fff" stroke="#b800c0" stroke-width="1.3"/>
<circle cx="535.7" cy="196.1" r="2.75" fill="#bb00c4" stroke="#2a002a" stroke-width="0.6"/>
<circle cx="521" cy="200.3" r="2.75" fill="#bb00c4" stroke="#2a002a" stroke-width="0.6"/>
<circle cx="523.7" cy="202.6" r="2.75" fill="#bb00c4" stroke="#2a002a" stroke-width="0.6"/>
<circle cx="524.3" cy="210.1" r="2.75" fill="#bb00c4" stroke="#2a002a" stroke-width="0.6"/>
<circle cx="527.9" cy="212.4" r="2.75" fill="#bb00c4" stroke="#2a002a" stroke-width="0.6"/>
<circle cx="532.3" cy="212.4" r="2.75" fill="#bb00c4" stroke="#2a002a" stroke-width="0.6"/>
<circle cx="525.6" cy="215.5" r="2.75" fill="#bb00c4" stroke="#2a002a" stroke-width="0.6"/>
<circle cx="530.6" cy="215.1" r="2.75" fill="#bb00c4" stroke="#2a002a" stroke-width="0.6"/>
<circle cx="505.2" cy="221.5" r="2.75" fill="#bb00c4" stroke="#2a002a" stroke-width="0.6"/>
<circle cx="495.2" cy="223.8" r="2.75" fill="#bb00c4" stroke="#2a002a" stroke-width="0.6"/>
<circle cx="497.8" cy="233.9" r="2.75" fill="#bb00c4" stroke="#2a002a" stroke-width="0.6"/>
<circle cx="542.9" cy="218.5" r="2.75" fill="#bb00c4" stroke="#2a002a" stroke-width="0.6"/>
<circle cx="540.7" cy="220.8" r="2.75" fill="#bb00c4" stroke="#2a002a" stroke-width="0.6"/>
<circle cx="482" cy="230.2" r="2.75" fill="#bb00c4" stroke="#2a002a" stroke-width="0.6"/>
<circle cx="507.6" cy="219.5" r="2.75" fill="#bb00c4" stroke="#2a002a" stroke-width="0.6"/>
<circle cx="510.6" cy="226.1" r="2.75" fill="#bb00c4" stroke="#2a002a" stroke-width="0.6"/>
<circle cx="511.5" cy="241.3" r="2.75" fill="#bb00c4" stroke="#2a002a" stroke-width="0.6"/>
<circle cx="499.8" cy="251.6" r="2.75" fill="#bb00c4" stroke="#2a002a" stroke-width="0.6"/>
<circle cx="489.6" cy="266.6" r="2.75" fill="#bb00c4" stroke="#2a002a" stroke-width="0.6"/>
<path d="M695.96 0 L434.24 307" stroke="#2e2e2e" stroke-width="1.05" stroke-dasharray="3.95 3.67" stroke-dashoffset="1.33" fill="none"/>
</g>
<path d="M36.5 0.5H334.5" stroke="#333" stroke-width="1.2"/>
<path d="M36.5 0V306.5H334.5 V0" stroke="#5a5a5a" stroke-width="1.1" fill="none"/>
<path d="M36.5 6.9H38.7M334.5 6.9H332.3M36.5 73.5H38.7M334.5 73.5H332.3M36.5 140.1H38.7M334.5 140.1H332.3M36.5 206.7H38.7M334.5 206.7H332.3M36.5 273.3H38.7M334.5 273.3H332.3M36.5 306V303.8M36.5 0.5V3M96.1 306V303.8M96.1 0.5V3M155.7 306V303.8M155.7 0.5V3M215.3 306V303.8M215.3 0.5V3M274.9 306V303.8M274.9 0.5V3M334.5 306V303.8M334.5 0.5V3" stroke="#8a8a8a" stroke-width="0.8"/>
<text x="33.6" y="10.3" class="tk" text-anchor="end" textLength="6.1" lengthAdjust="spacingAndGlyphs">1</text>
<text x="33.6" y="76.9" class="tk" text-anchor="end" textLength="6.1" lengthAdjust="spacingAndGlyphs">0</text>
<text x="33.6" y="143.5" class="tk" text-anchor="end" textLength="14.1" lengthAdjust="spacingAndGlyphs">−1</text>
<text x="33.6" y="210.1" class="tk" text-anchor="end" textLength="14.1" lengthAdjust="spacingAndGlyphs">−2</text>
<text x="33.6" y="276.7" class="tk" text-anchor="end" textLength="14.1" lengthAdjust="spacingAndGlyphs">−3</text>
<text x="36.5" y="316.5" class="tk" text-anchor="middle" textLength="6.1" lengthAdjust="spacingAndGlyphs">5</text>
<text x="96.1" y="316.5" class="tk" text-anchor="middle" textLength="6.1" lengthAdjust="spacingAndGlyphs">6</text>
<text x="155.7" y="316.5" class="tk" text-anchor="middle" textLength="6.1" lengthAdjust="spacingAndGlyphs">7</text>
<text x="215.3" y="316.5" class="tk" text-anchor="middle" textLength="6.1" lengthAdjust="spacingAndGlyphs">8</text>
<text x="274.9" y="316.5" class="tk" text-anchor="middle" textLength="6.1" lengthAdjust="spacingAndGlyphs">9</text>
<text x="334.5" y="316.5" class="tk" text-anchor="middle" textLength="12.2" lengthAdjust="spacingAndGlyphs">10</text>
<path d="M398.85 0.5H696.85" stroke="#333" stroke-width="1.2"/>
<path d="M398.85 0V306.5H696.85 V0" stroke="#5a5a5a" stroke-width="1.1" fill="none"/>
<path d="M398.85 6.9H401.05M696.85 6.9H694.65M398.85 73.5H401.05M696.85 73.5H694.65M398.85 140.1H401.05M696.85 140.1H694.65M398.85 206.7H401.05M696.85 206.7H694.65M398.85 273.3H401.05M696.85 273.3H694.65M398.85 306V303.8M398.85 0.5V3M458.45 306V303.8M458.45 0.5V3M518.05 306V303.8M518.05 0.5V3M577.65 306V303.8M577.65 0.5V3M637.25 306V303.8M637.25 0.5V3M696.85 306V303.8M696.85 0.5V3" stroke="#8a8a8a" stroke-width="0.8"/>
<text x="395.95" y="10.3" class="tk" text-anchor="end" textLength="6.1" lengthAdjust="spacingAndGlyphs">1</text>
<text x="395.95" y="76.9" class="tk" text-anchor="end" textLength="6.1" lengthAdjust="spacingAndGlyphs">0</text>
<text x="395.95" y="143.5" class="tk" text-anchor="end" textLength="14.1" lengthAdjust="spacingAndGlyphs">−1</text>
<text x="395.95" y="210.1" class="tk" text-anchor="end" textLength="14.1" lengthAdjust="spacingAndGlyphs">−2</text>
<text x="395.95" y="276.7" class="tk" text-anchor="end" textLength="14.1" lengthAdjust="spacingAndGlyphs">−3</text>
<text x="398.85" y="316.5" class="tk" text-anchor="middle" textLength="6.1" lengthAdjust="spacingAndGlyphs">5</text>
<text x="458.45" y="316.5" class="tk" text-anchor="middle" textLength="6.1" lengthAdjust="spacingAndGlyphs">6</text>
<text x="518.05" y="316.5" class="tk" text-anchor="middle" textLength="6.1" lengthAdjust="spacingAndGlyphs">7</text>
<text x="577.65" y="316.5" class="tk" text-anchor="middle" textLength="6.1" lengthAdjust="spacingAndGlyphs">8</text>
<text x="637.25" y="316.5" class="tk" text-anchor="middle" textLength="6.1" lengthAdjust="spacingAndGlyphs">9</text>
<text x="696.85" y="316.5" class="tk" text-anchor="middle" textLength="12.2" lengthAdjust="spacingAndGlyphs">10</text>
<g class="st"><text x="59.56" y="334.1" textLength="17.6" lengthAdjust="spacingAndGlyphs" style="font-size:14.5px">log</text><text x="82.35" y="334.1" textLength="10.96" lengthAdjust="spacingAndGlyphs" style="font-size:14.5px">Σ</text><text x="93.83" y="336.6" textLength="10.04" lengthAdjust="spacingAndGlyphs" style="font-size:10.5px">M</text><text x="103.85" y="336.6" textLength="3.18" lengthAdjust="spacingAndGlyphs" style="font-size:10.5px">(</text><text x="107.02" y="336.6" textLength="8.57" lengthAdjust="spacingAndGlyphs" style="font-size:10.5px">H</text><text x="115.38" y="338.3" textLength="4.43" lengthAdjust="spacingAndGlyphs" style="font-size:7px">2</text><text x="120.85" y="336.6" textLength="3.44" lengthAdjust="spacingAndGlyphs" style="font-size:10.5px">)</text><text x="129.99" y="334.1" textLength="28.9" lengthAdjust="spacingAndGlyphs" style="font-size:14.5px">from</text><text x="197.57" y="334.1" textLength="12.37" lengthAdjust="spacingAndGlyphs" style="font-size:14.5px">−</text><text x="233.45" y="334.1" textLength="16.81" lengthAdjust="spacingAndGlyphs" style="font-size:14.5px">[M</text><text x="268.72" y="334.1" textLength="23.26" lengthAdjust="spacingAndGlyphs" style="font-size:14.5px">kpc</text><text x="291.95" y="328.5" textLength="8.43" lengthAdjust="spacingAndGlyphs" style="font-size:10px">−</text><text x="299.75" y="328.5" textLength="6.5" lengthAdjust="spacingAndGlyphs" style="font-size:10px">2</text><text x="306.4" y="334.1" textLength="3.87" lengthAdjust="spacingAndGlyphs" style="font-size:14.5px">]</text><text x="162.87" y="334.1" textLength="33.9" lengthAdjust="spacingAndGlyphs" style="font-size:14.5px">CO(1</text><text x="212.96" y="334.1" textLength="15.5" lengthAdjust="spacingAndGlyphs" style="font-size:14.5px">0)</text><text x="422.16" y="334.1" textLength="17.6" lengthAdjust="spacingAndGlyphs" style="font-size:14.5px">log</text><text x="444.95" y="334.1" textLength="10.96" lengthAdjust="spacingAndGlyphs" style="font-size:14.5px">Σ</text><text x="456.43" y="336.6" textLength="10.04" lengthAdjust="spacingAndGlyphs" style="font-size:10.5px">M</text><text x="466.45" y="336.6" textLength="3.18" lengthAdjust="spacingAndGlyphs" style="font-size:10.5px">(</text><text x="469.62" y="336.6" textLength="8.57" lengthAdjust="spacingAndGlyphs" style="font-size:10.5px">H</text><text x="477.98" y="338.3" textLength="4.43" lengthAdjust="spacingAndGlyphs" style="font-size:7px">2</text><text x="483.45" y="336.6" textLength="3.44" lengthAdjust="spacingAndGlyphs" style="font-size:10.5px">)</text><text x="492.59" y="334.1" textLength="28.9" lengthAdjust="spacingAndGlyphs" style="font-size:14.5px">from</text><text x="560.17" y="334.1" textLength="12.37" lengthAdjust="spacingAndGlyphs" style="font-size:14.5px">−</text><text x="596.05" y="334.1" textLength="16.81" lengthAdjust="spacingAndGlyphs" style="font-size:14.5px">[M</text><text x="631.32" y="334.1" textLength="23.26" lengthAdjust="spacingAndGlyphs" style="font-size:14.5px">kpc</text><text x="654.55" y="328.5" textLength="8.43" lengthAdjust="spacingAndGlyphs" style="font-size:10px">−</text><text x="662.35" y="328.5" textLength="6.5" lengthAdjust="spacingAndGlyphs" style="font-size:10px">2</text><text x="669" y="334.1" textLength="3.87" lengthAdjust="spacingAndGlyphs" style="font-size:14.5px">]</text><text x="525.48" y="334.1" textLength="33.63" lengthAdjust="spacingAndGlyphs" style="font-size:14.5px">CO(3</text><text x="575.22" y="334.1" textLength="15.86" lengthAdjust="spacingAndGlyphs" style="font-size:14.5px">2)</text><text x="72.9" y="16.9" textLength="7.9" lengthAdjust="spacingAndGlyphs" style="font-size:10px">R</text><text x="80.88" y="16.9" textLength="10.33" lengthAdjust="spacingAndGlyphs" style="font-size:10px">=</text><text x="117.78" y="16.9" textLength="6.32" lengthAdjust="spacingAndGlyphs" style="font-size:10px;font-style:italic">σ</text><text x="124.22" y="16.9" textLength="9.98" lengthAdjust="spacingAndGlyphs" style="font-size:10px">=</text><text x="91" y="16.9" textLength="20" lengthAdjust="spacingAndGlyphs" style="font-size:10px">0.79,</text><text x="134.12" y="16.9" textLength="20.16" lengthAdjust="spacingAndGlyphs" style="font-size:10px">0.40</text><text x="435.5" y="16.9" textLength="7.9" lengthAdjust="spacingAndGlyphs" style="font-size:10px">R</text><text x="443.48" y="16.9" textLength="10.33" lengthAdjust="spacingAndGlyphs" style="font-size:10px">=</text><text x="480.38" y="16.9" textLength="6.32" lengthAdjust="spacingAndGlyphs" style="font-size:10px;font-style:italic">σ</text><text x="486.82" y="16.9" textLength="9.97" lengthAdjust="spacingAndGlyphs" style="font-size:10px">=</text><text x="453.6" y="16.9" textLength="20" lengthAdjust="spacingAndGlyphs" style="font-size:10px">0.84,</text><text x="496.74" y="16.9" textLength="19.62" lengthAdjust="spacingAndGlyphs" style="font-size:10px">0.33</text><text x="73.8" y="31.3" textLength="32.26" lengthAdjust="spacingAndGlyphs" style="font-size:10px">bisector</text><text x="107.52" y="31.3" textLength="10.04" lengthAdjust="spacingAndGlyphs" style="font-size:10px">fit</text><text x="119.76" y="31.3" textLength="3.12" lengthAdjust="spacingAndGlyphs" style="font-size:10px">:</text><text x="127.99" y="31.3" textLength="6.11" lengthAdjust="spacingAndGlyphs" style="font-size:10px">y</text><text x="134.6" y="31.3" textLength="9.02" lengthAdjust="spacingAndGlyphs" style="font-size:10px">=</text><text x="165.08" y="31.3" textLength="3.75" lengthAdjust="spacingAndGlyphs" style="font-size:10px">·</text><text x="169.9" y="31.3" textLength="5.68" lengthAdjust="spacingAndGlyphs" style="font-size:10px">x</text><text x="176.73" y="31.3" textLength="7.6" lengthAdjust="spacingAndGlyphs" style="font-size:10px">−</text><text x="143.66" y="31.3" textLength="19.91" lengthAdjust="spacingAndGlyphs" style="font-size:10px">1.15</text><text x="185.38" y="31.3" textLength="25.18" lengthAdjust="spacingAndGlyphs" style="font-size:10px">10.19</text><text x="436.4" y="31.3" textLength="32.26" lengthAdjust="spacingAndGlyphs" style="font-size:10px">bisector</text><text x="470.12" y="31.3" textLength="10.04" lengthAdjust="spacingAndGlyphs" style="font-size:10px">fit</text><text x="482.36" y="31.3" textLength="3.11" lengthAdjust="spacingAndGlyphs" style="font-size:10px">:</text><text x="490.59" y="31.3" textLength="6.11" lengthAdjust="spacingAndGlyphs" style="font-size:10px">y</text><text x="497.2" y="31.3" textLength="9.03" lengthAdjust="spacingAndGlyphs" style="font-size:10px">=</text><text x="527.68" y="31.3" textLength="3.75" lengthAdjust="spacingAndGlyphs" style="font-size:10px">·</text><text x="532.5" y="31.3" textLength="5.68" lengthAdjust="spacingAndGlyphs" style="font-size:10px">x</text><text x="539.33" y="31.3" textLength="7.6" lengthAdjust="spacingAndGlyphs" style="font-size:10px">−</text><text x="506.27" y="31.3" textLength="19.8" lengthAdjust="spacingAndGlyphs" style="font-size:10px">1.05</text><text x="548.33" y="31.3" textLength="18.91" lengthAdjust="spacingAndGlyphs" style="font-size:10px">9.41</text></g>
<g class="st" transform="translate(12.7 0) rotate(-90)"><text x="-235.75" y="0" textLength="18.74" lengthAdjust="spacingAndGlyphs" style="font-size:14.5px">log</text><text x="-212.06" y="0" textLength="11.19" lengthAdjust="spacingAndGlyphs" style="font-size:14.5px">Σ</text><text x="-199.54" y="2.4" textLength="13.82" lengthAdjust="spacingAndGlyphs" style="font-size:10.8px">SFR</text><text x="-175.85" y="0" textLength="4.62" lengthAdjust="spacingAndGlyphs" style="font-size:14.5px">[</text><text x="-171.8" y="0" textLength="12.8" lengthAdjust="spacingAndGlyphs" style="font-size:14.5px">M</text><text x="-144.36" y="0" textLength="12.66" lengthAdjust="spacingAndGlyphs" style="font-size:14.5px">yr</text><text x="-130.07" y="-5.4" textLength="7.6" lengthAdjust="spacingAndGlyphs" style="font-size:10px">−</text><text x="-122.06" y="-5.4" textLength="4.29" lengthAdjust="spacingAndGlyphs" style="font-size:10px">1</text><text x="-111.76" y="0" textLength="21.82" lengthAdjust="spacingAndGlyphs" style="font-size:14.5px">kpc</text><text x="-88.29" y="-5.4" textLength="7.84" lengthAdjust="spacingAndGlyphs" style="font-size:10px">−</text><text x="-80.56" y="-5.4" textLength="5.62" lengthAdjust="spacingAndGlyphs" style="font-size:10px">2</text><text x="-73.84" y="0" textLength="3.28" lengthAdjust="spacingAndGlyphs" style="font-size:14.5px">]</text></g>
<g class="st" transform="translate(375.3 0) rotate(-90)"><text x="-235.75" y="0" textLength="18.74" lengthAdjust="spacingAndGlyphs" style="font-size:14.5px">log</text><text x="-212.06" y="0" textLength="11.19" lengthAdjust="spacingAndGlyphs" style="font-size:14.5px">Σ</text><text x="-199.54" y="2.4" textLength="13.82" lengthAdjust="spacingAndGlyphs" style="font-size:10.8px">SFR</text><text x="-175.85" y="0" textLength="4.62" lengthAdjust="spacingAndGlyphs" style="font-size:14.5px">[</text><text x="-171.8" y="0" textLength="12.8" lengthAdjust="spacingAndGlyphs" style="font-size:14.5px">M</text><text x="-144.36" y="0" textLength="12.66" lengthAdjust="spacingAndGlyphs" style="font-size:14.5px">yr</text><text x="-130.07" y="-5.4" textLength="7.6" lengthAdjust="spacingAndGlyphs" style="font-size:10px">−</text><text x="-122.06" y="-5.4" textLength="4.29" lengthAdjust="spacingAndGlyphs" style="font-size:10px">1</text><text x="-111.76" y="0" textLength="21.82" lengthAdjust="spacingAndGlyphs" style="font-size:14.5px">kpc</text><text x="-88.29" y="-5.4" textLength="7.84" lengthAdjust="spacingAndGlyphs" style="font-size:10px">−</text><text x="-80.56" y="-5.4" textLength="5.62" lengthAdjust="spacingAndGlyphs" style="font-size:10px">2</text><text x="-73.84" y="0" textLength="3.28" lengthAdjust="spacingAndGlyphs" style="font-size:14.5px">]</text></g>
<circle cx="257.8" cy="333.8" r="3.0" fill="none" stroke="#111" stroke-width="0.85"/><circle cx="257.8" cy="333.8" r="0.75" fill="#111"/><circle cx="620.4" cy="333.8" r="3.0" fill="none" stroke="#111" stroke-width="0.85"/><circle cx="620.4" cy="333.8" r="0.75" fill="#111"/><circle cx="12.9" cy="154.5" r="3.0" fill="none" stroke="#111" stroke-width="0.85"/><circle cx="12.9" cy="154.5" r="0.75" fill="#111"/><circle cx="375.5" cy="154.5" r="3.0" fill="none" stroke="#111" stroke-width="0.85"/><circle cx="375.5" cy="154.5" r="0.75" fill="#111"/>
<path d="M45.2 28.5H64.6" stroke="#2a2a2a" stroke-width="1" stroke-dasharray="4.3 3.2"/>
<path d="M407.8 28.5H427.2" stroke="#2a2a2a" stroke-width="1" stroke-dasharray="4.3 3.2"/>
</svg></body></html>
